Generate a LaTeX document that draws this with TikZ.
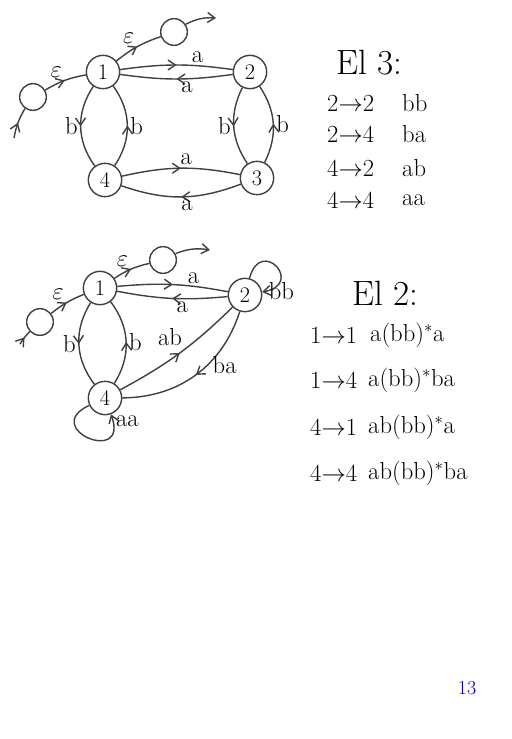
\documentclass[tikz,border=0pt]{standalone}
\usepackage{amsmath,amssymb}
\usetikzlibrary{arrows.meta,automata,positioning,decorations.markings}
\tikzset{
  st/.style  ={state,draw=black!75,line width=1.2pt,minimum size=10mm,
               inner sep=0pt,font=\fontsize{19}{22}\selectfont},
  aux/.style ={circle,draw=black!75,line width=1.2pt,minimum size=8mm,
               inner sep=0pt},
  ed/.style  ={draw=black!75,line width=1.2pt,postaction={decorate},
               decoration={markings,mark=at position 0.5 with
               {\arrow{Straight Barb[length=2.2mm,width=3mm]}}}},
  lp/.style  ={draw=black!75,line width=1.2pt,
               -{Straight Barb[length=2.2mm,width=3mm]}},
  lbl/.style ={font=\fontsize{21}{25}\selectfont,inner sep=2pt},
  hd/.style  ={font=\fontsize{30}{34}\selectfont,anchor=west,inner sep=0pt},
  row/.style ={font=\fontsize{21}{25}\selectfont,anchor=west,inner sep=0pt},
}

\begin{document}
\begin{tikzpicture}[x=0.03cm,y=-0.03cm]
\useasboundingbox (0,0) rectangle (511,739);

% El 3 automaton
\node[aux] (qs) at (33,97) {};
\node[st] (q1) at (103,72) {1};
\node[aux] (qf) at (174,32) {};
\node[st] (q2) at (250,72) {2};
\node[st] (q3) at (257,178) {3};
\node[st] (q4) at (105,180) {4};
\coordinate (qin) at (14,138);
\coordinate (qout) at (216,18);

\draw[ed] (qin) to[bend left=10] (qs);
\draw[ed] (qs) to[bend left=10] node[lbl,above left] {$\varepsilon$} (q1);
\draw[ed] (q1) to[bend left=10] node[lbl,above left] {$\varepsilon$} (qf);
\draw[lp] (qf) to[bend left=15] (qout);
\draw[ed] (q1) to[bend left=8] node[lbl,above,pos=0.7] {a} (q2);
\draw[ed] (q2) to[bend left=8] node[lbl,below,pos=0.4] {a} (q1);
\draw[ed] (q1) to[bend right=35] node[lbl,left] {b} (q4);
\draw[ed] (q4) to[bend right=35] node[lbl,right] {b} (q1);
\draw[ed] (q2) to[bend right=30] node[lbl,left] {b} (q3);
\draw[ed] (q3) to[bend right=30] node[lbl,right] {b} (q2);
\draw[ed] (q4) to[bend left=12] node[lbl,above,pos=0.55] {a} (q3);
\draw[ed] (q3) to[bend left=20] node[lbl,below,pos=0.45] {a} (q4);

% El 3 table
\node[hd] (h3) at (336,63) {El 3:};
\node[row] (r31) at (327,103) {2$\to$2};
\node[row] (r32) at (327,134) {2$\to$4};
\node[row] (r33) at (327,168) {4$\to$2};
\node[row] (r34) at (327,200) {4$\to$4};
\node[row] (w31) at (402,103) {bb};
\node[row] (w32) at (402,134) {ba};
\node[row] (w33) at (402,168) {ab};
\node[row] (w34) at (402,200) {aa};

% El 2 automaton
\node[aux] (ps) at (40,322) {};
\node[st] (p1) at (100,288) {1};
\node[aux] (pf) at (163,260) {};
\node[st] (p2) at (245,295) {2};
\node[st] (p4) at (105,398) {4};
\coordinate (pin) at (20,344);
\coordinate (pout) at (210,250);

\draw[ed] (pin) to[bend left=5] (ps);
\draw[ed] (ps) to[bend left=8] node[lbl,above left] {$\varepsilon$} (p1);
\draw[ed] (p1) to[bend left=10] node[lbl,above left] {$\varepsilon$} (pf);
\draw[lp] (pf) to[bend left=15] (pout);
\draw[ed] (p1) to[bend left=8] node[lbl,above,pos=0.7] {a} (p2);
\draw[ed] (p2) to[bend left=8] node[lbl,below,pos=0.4] {a} (p1);
\draw[ed] (p1) to[bend right=35] node[lbl,left] {b} (p4);
\draw[ed] (p4) to[bend right=35] node[lbl,right] {b} (p1);
\draw[ed] (p4) to[bend right=8] node[lbl,above left,pos=0.55] {ab} (p2);
\draw[ed] (p2) to[bend left=36] node[lbl,right,pos=0.4,xshift=2pt] {ba} (p4);
\draw[lp] (p2) to[out=75,in=10,looseness=6] node[lbl,right,pos=0.97] {bb} (p2);
\draw[lp] (p4) to[out=205,in=290,looseness=6] node[lbl,right,pos=0.95] {aa} (p4);

% El 2 table
\node[hd] (h2) at (352,293) {El 2:};
\node[row] (r21) at (310,335) {1$\to$1};
\node[row] (r22) at (310,380) {1$\to$4};
\node[row] (r23) at (310,427) {4$\to$1};
\node[row] (r24) at (310,473) {4$\to$4};
\node[row] (w21) at (370,335) {a(bb)$^*$a};
\node[row] (w22) at (368,380) {a(bb)$^*$ba};
\node[row] (w23) at (368,427) {ab(bb)$^*$a};
\node[row] (w24) at (368,473) {ab(bb)$^*$ba};

% page number
\node[font=\fontsize{17}{20}\selectfont,text=blue!70!black] (pg) at (467,688) {13};
\end{tikzpicture}
\end{document}
